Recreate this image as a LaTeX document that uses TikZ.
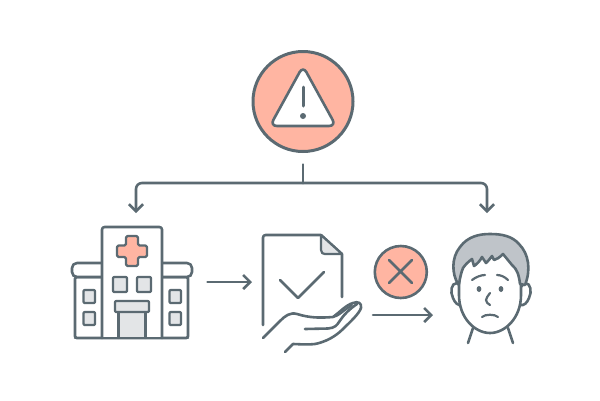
\documentclass[tikz,border=0pt]{standalone}
\usetikzlibrary{arrows.meta}
\definecolor{ink}{HTML}{5B6A72}
\definecolor{salmon}{HTML}{FFB5A2}
\definecolor{pale}{HTML}{E3E5E7}
\definecolor{hair}{HTML}{BFC4C9}
\tikzset{
  line/.style={draw=ink,line width=2.6pt,line cap=round,line join=round},
  thin line/.style={draw=ink,line width=2.2pt,line cap=round,line join=round},
  conn/.style={line,-{Straight Barb[length=7pt,width=14pt,line width=2.6pt]}},
  badge/.style={circle,draw=ink,fill=salmon,inner sep=0pt},
}
\begin{document}
\begin{tikzpicture}[x=1pt,y=-1pt]
\useasboundingbox (0,0) rectangle (600,400);
% alert badge
\node[badge,line width=3pt,minimum size=100pt] (alert) at (303,101.5) {};
\draw[line,fill=white,rounded corners=7pt] (303,66) -- (336,126) -- (270,126) -- cycle;
\draw[line,line width=3pt] (303,87) -- (303,106);
\fill[ink] (303,116) circle (3pt);
% connectors
\coordinate (branch) at (303,183);
\coordinate (hosp) at (136,213);
\coordinate (pers) at (487,213);
\draw[line] (303,164.5) -- (branch);
\draw[conn,rounded corners=6pt] (branch) -- (136,183) -- (hosp);
\draw[conn,rounded corners=6pt] (branch) -- (487,183) -- (pers);
% hospital
\draw[line,fill=white,rounded corners=1.5pt] (75,277) rectangle (188,338);
\draw[line,fill=white,rounded corners=5pt] (72,263) rectangle (192,277);
\draw[line,fill=white,rounded corners=2.5pt] (102,338) -- (102,227) -- (162,227) -- (162,338);
\draw[thin line,fill=salmon,rounded corners=1.5pt] (126,236) -- (138,236) -- (138,245.5) -- (147,245.5) -- (147,257) -- (138,257) -- (138,266) -- (126,266) -- (126,257) -- (117,257) -- (117,245.5) -- (126,245.5) -- cycle;
\foreach \a/\b/\c/\d in {113/277/127/292,137/277/151/292,83.5/290/95/303,83.5/312/95/325,169.5/290/181/303,169.5/312/181/325}
  \draw[thin line,fill=pale,rounded corners=1pt] (\a,\b) rectangle (\c,\d);
\draw[thin line,fill=pale] (118.5,338) -- (118.5,312) -- (145.5,312) -- (145.5,338);
\draw[thin line,fill=pale,rounded corners=1pt] (115,301) rectangle (149,312);
\draw[line] (75,338) -- (188,338);
% arrow 1
\coordinate (a1s) at (207.5,282);
\coordinate (a1e) at (252,282);
\draw[conn] (a1s) -- (a1e);
% document
\draw[line,rounded corners=2.5pt] (263,325) -- (263,235) -- (321,235);
\draw[line] (321,235) -- (342,254) -- (342,297);
\draw[line,fill=pale,line width=2.2pt] (321,235) -- (321,250) .. controls (321,253) and (323,254) .. (325,254) -- (342,254) -- cycle;
\draw[line] (280,280) -- (298,298) -- (324,272);
% hand
\draw[line] (263,338) -- (280,321) .. controls (285,316) and (290,312) .. (297,314) .. controls (310,318) and (320,318) .. (333,317) .. controls (340,312) and (346,305) .. (353,303) .. controls (358,301) and (362,303) .. (361,308) .. controls (359,314) and (350,322) .. (343,329) .. controls (335,337) and (325,342) .. (315,344) .. controls (305,345) and (298,344) .. (293,344) -- (285,352);
\draw[line] (305,329) -- (328,328.5) .. controls (335,328) and (337,325) .. (339,322) .. controls (343,316) and (348,310) .. (357,304);
\draw[line,line width=2pt] (333,317) .. controls (337,317) and (342,312) .. (352,305);
% cross badge
\node[badge,line width=2.6pt,minimum size=52pt] (refuse) at (400.8,272) {};
\draw[line] (389,260) -- (412,283) (412,260) -- (389,283);
% arrow 2
\coordinate (a2s) at (373,315);
\coordinate (a2e) at (433,315);
\draw[conn] (a2s) -- (a2e);
% person
\draw[line] (473,328) -- (468,343) (508,328) -- (513,343);
\draw[line,fill=white] (457,283) .. controls (451,283) and (450,292) .. (453,298) .. controls (455,303) and (458,306) .. (462,305) -- (470,295) -- cycle;
\draw[line,fill=white] (525,283) .. controls (531,283) and (532,292) .. (529,298) .. controls (527,303) and (524,306) .. (520,305) -- (512,295) -- cycle;
\path[fill=white] (459,255) -- (459,295) .. controls (459,318) and (475,333) .. (490,333) .. controls (505,333) and (521,318) .. (521,295) -- (521,255) -- cycle;
\draw[line] (459,275) -- (459,295) .. controls (459,318) and (475,333) .. (490,333) .. controls (505,333) and (521,318) .. (521,295) -- (521,275);
\draw[line,fill=hair] (458,284) .. controls (452,274) and (451,258) .. (460,247) .. controls (468,236) and (480,234) .. (490,234) .. controls (502,234) and (512,236) .. (519,244) .. controls (529,254) and (531,270) .. (525,285) -- (520,284) .. controls (519,275) and (517,269) .. (512,265) -- (503,254) .. controls (499,258) and (497,259) .. (494,260) -- (492,256) .. controls (490,259) and (488,261) .. (486,263) -- (482,257) .. controls (480,261) and (477,264) .. (474,266) -- (472,259) .. controls (468,262) and (465,265) .. (463,268) .. controls (461,273) and (460,278) .. (459,284) -- cycle;
\draw[thin line] (472,280) .. controls (476,277) and (481,275) .. (485,275);
\draw[thin line] (497,275) .. controls (501,275) and (505,277) .. (508,280);
\fill[ink] (479,289) circle[x radius=2.4pt,y radius=3pt] (501,289) circle[x radius=2.4pt,y radius=3pt];
\draw[thin line] (490,293) .. controls (488,296) and (486,298) .. (486,300) .. controls (486,302) and (488,304) .. (490,305);
\draw[thin line] (482,317) .. controls (485,314) and (495,314) .. (498,317);
\end{tikzpicture}
\end{document}
